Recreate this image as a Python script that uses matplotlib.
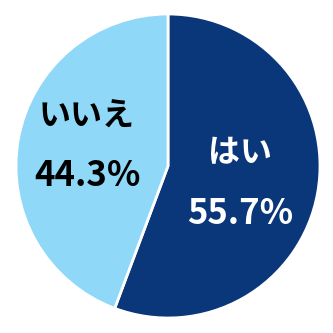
import matplotlib
matplotlib.use("Agg")
import matplotlib.pyplot as plt

labels = ["はい", "いいえ"]
values = [55.7, 44.3]
colors = ["#0a367a", "#8fd8f8"]
text_colors = ["white", "black"]

plt.rcParams['font.family'] = ['Noto Sans CJK JP', 'DejaVu Sans']

fig = plt.figure(figsize=(3.33, 3.33), dpi=100)
ax = fig.add_axes([0, 0, 1, 1])

# pie centre at (168,166) px, radius ~152 px
cx = (168 / 333) * 2.2 - 1.1
cy = 1.1 - (166 / 333) * 2.2
r = 152 / 333 * 2.2

wedges, _ = ax.pie(values, colors=colors, startangle=90, counterclock=False,
                   center=(cx, cy), radius=r,
                   wedgeprops=dict(edgecolor='white', linewidth=2))
ax.set_xlim(-1.1, 1.1)
ax.set_ylim(-1.1, 1.1)
ax.set_aspect('equal')
ax.axis('off')

# label positions (px)
label_pos = [(240, 153, 213), (87, 117, 175)]
for lab, val, tc, (x, y1, y2) in zip(labels, values, text_colors, label_pos):
    X = x / 333 * 2.2 - 1.1
    ax.text(X, 1.1 - y1 / 333 * 2.2, lab, color=tc, fontsize=23,
            fontweight='bold', ha='center', va='center')
    ax.text(X, 1.1 - y2 / 333 * 2.2, "%.1f%%" % val, color=tc, fontsize=25,
            fontweight='bold', ha='center', va='center')

fig.savefig("out.png", dpi=100)
